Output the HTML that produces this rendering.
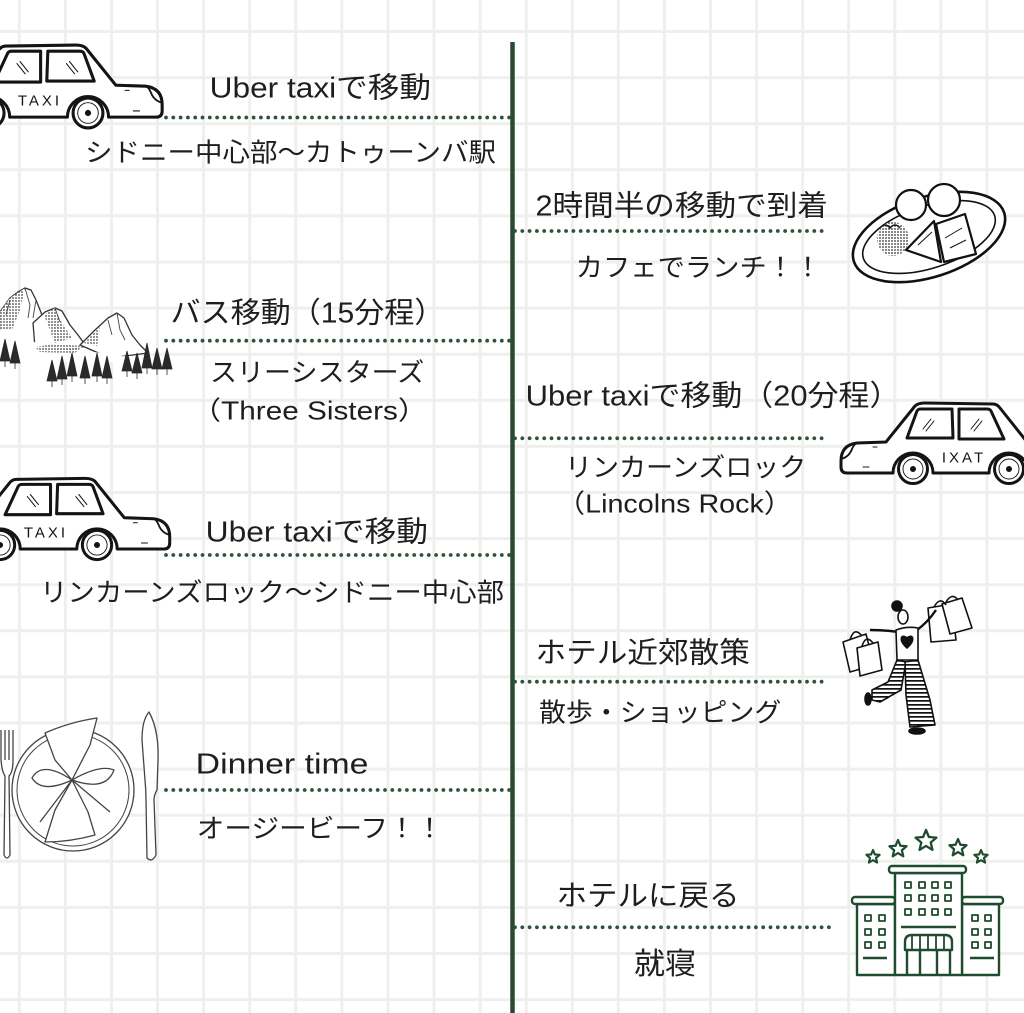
<!DOCTYPE html>
<html><head><meta charset="utf-8"><style>
html,body{margin:0;padding:0;background:#fff;}
svg{display:block;}
text{font-family:"Liberation Sans","Noto Sans CJK JP",sans-serif;fill:#1e1e1e;}
</style></head><body>
<svg width="1024" height="1013" viewBox="0 0 1024 1013" xmlns="http://www.w3.org/2000/svg">
<defs>
<pattern id="stripes" width="6" height="4" patternUnits="userSpaceOnUse"><rect width="6" height="4" fill="#fff"/><rect width="6" height="1.7" fill="#111"/></pattern>
<pattern id="stipple" width="3" height="3" patternUnits="userSpaceOnUse"><rect width="3" height="3" fill="#fff"/><circle cx="1" cy="1" r="0.9" fill="#333"/></pattern>
<g id="car" stroke="#141414" stroke-width="3" stroke-linejoin="round" stroke-linecap="round">
<path d="M-72,-8 Q-72,-24 -56,-26 L-27,-27 L2,-63 Q5,-66 12,-66 L80,-65 Q84,-65 87,-61 L118,-22 L118,4 L116,4 A20,20 0 0 0 76,4 L20,4 A20,20 0 0 0 -20,4 L-66,4 Q-72,4 -72,-2 Z" fill="#fff"/>
<path d="M-72,-10 Q-64,-12 -61,-20 Q-59,-25 -56,-26" fill="none" stroke-width="1.8"/>
<path d="M-6,-31 L4,-58 Q5,-60 8,-60 L39,-60 L40,-31 Z" fill="#fff"/>
<path d="M46,-60 L74,-60 Q77,-60 78,-58 L91,-30 L46,-30 Z" fill="#fff"/>
<path d="M10,-40 L18,-50 M13,-38 L21,-48 M58,-40 L66,-50 M61,-38 L69,-48" stroke-width="1" fill="none"/>
<path d="M-50,-2 L-44,-2 M-40,-22 L-36,-22" stroke-width="1" fill="none"/>
<circle cx="0" cy="0" r="14.5" fill="#fff"/>
<circle cx="0" cy="0" r="10" fill="none" stroke-width="0.9"/>
<circle cx="0" cy="0" r="3" fill="#141414" stroke="none"/>
<circle cx="96" cy="0" r="14.5" fill="#fff"/>
<circle cx="96" cy="0" r="10" fill="none" stroke-width="0.9"/>
<circle cx="96" cy="0" r="3" fill="#141414" stroke="none"/>
</g>
<path id="star" d="M0,-1 L.265,-.364 L.951,-.309 L.428,.139 L.588,.809 L0,.45 L-.588,.809 L-.428,.139 L-.951,-.309 L-.265,-.364 Z"/>
</defs>

<!-- grid -->
<path stroke="#edf0ee" stroke-width="3" fill="none" d="
M19.3,0V1013 M65.4,0V1013 M111.5,0V1013 M157.5,0V1013 M203.6,0V1013 M249.7,0V1013 M295.8,0V1013 M341.9,0V1013 M387.9,0V1013 M434,0V1013 M480.1,0V1013 M526.2,0V1013 M572.3,0V1013 M618.3,0V1013 M664.4,0V1013 M710.5,0V1013 M756.6,0V1013 M802.7,0V1013 M848.7,0V1013 M894.8,0V1013 M940.9,0V1013 M987,0V1013
M0,31.5H1024 M0,77.6H1024 M0,123.7H1024 M0,169.8H1024 M0,215.9H1024 M0,262H1024 M0,308.1H1024 M0,354.2H1024 M0,400.3H1024 M0,446.4H1024 M0,492.5H1024 M0,538.6H1024 M0,584.7H1024 M0,630.8H1024 M0,676.9H1024 M0,723H1024 M0,769.1H1024 M0,815.2H1024 M0,861.3H1024 M0,907.4H1024 M0,953.5H1024 M0,999.6H1024"/>

<!-- central line -->
<line x1="512.5" y1="42" x2="512.5" y2="1013" stroke="#2b4a32" stroke-width="4.5"/>

<!-- dotted connectors -->
<g stroke="#2e5438" stroke-width="3.8" stroke-linecap="round" stroke-dasharray="0 7.3" fill="none">
<line x1="166" y1="117.5" x2="510" y2="117.5"/>
<line x1="166" y1="340.7" x2="510" y2="340.7"/>
<line x1="166" y1="555" x2="510" y2="555"/>
<line x1="166" y1="790" x2="510" y2="790"/>
<line x1="515" y1="231" x2="826" y2="231"/>
<line x1="515" y1="438.3" x2="826" y2="438.3"/>
<line x1="515" y1="681.7" x2="826" y2="681.7"/>
<line x1="515" y1="927.3" x2="831" y2="927.3"/>
</g>

<!-- texts -->
<g>
<text x="209.7" y="97.7" font-size="29" textLength="221.3" lengthAdjust="spacingAndGlyphs">Uber taxiで移動</text>
<text x="85" y="161.6" font-size="26" textLength="411" lengthAdjust="spacingAndGlyphs">シドニー中心部〜カトゥーンバ駅</text>
<text x="170.5" y="322.7" font-size="29" textLength="273.9" lengthAdjust="spacingAndGlyphs">バス移動（15分程）</text>
<text x="210" y="381.6" font-size="26" textLength="214.3" lengthAdjust="spacingAndGlyphs">スリーシスターズ</text>
<text x="191.4" y="419.6" font-size="26" textLength="236.2" lengthAdjust="spacingAndGlyphs">（Three Sisters）</text>
<text x="205.7" y="541.7" font-size="29" textLength="222.3" lengthAdjust="spacingAndGlyphs">Uber taxiで移動</text>
<text x="40" y="601.6" font-size="26" textLength="464" lengthAdjust="spacingAndGlyphs">リンカーンズロック〜シドニー中心部</text>
<text x="195.7" y="773.7" font-size="29" textLength="172.7" lengthAdjust="spacingAndGlyphs">Dinner time</text>
<text x="196.7" y="837.6" font-size="26" textLength="246.7" lengthAdjust="spacingAndGlyphs">オージービーフ！！</text>

<text x="535.5" y="215.7" font-size="29" textLength="292.4" lengthAdjust="spacingAndGlyphs">2時間半の移動で到着</text>
<text x="575.7" y="276.6" font-size="26" textLength="245.7" lengthAdjust="spacingAndGlyphs">カフェでランチ！！</text>
<text x="525.7" y="405.7" font-size="29" textLength="374.7" lengthAdjust="spacingAndGlyphs">Uber taxiで移動（20分程）</text>
<text x="565" y="476.6" font-size="26" textLength="241.3" lengthAdjust="spacingAndGlyphs">リンカーンズロック</text>
<text x="556.4" y="512.6" font-size="26" textLength="236.2" lengthAdjust="spacingAndGlyphs">（Lincolns Rock）</text>
<text x="535.5" y="662.7" font-size="29" textLength="214.4" lengthAdjust="spacingAndGlyphs">ホテル近郊散策</text>
<text x="539" y="721.6" font-size="26" textLength="242.3" lengthAdjust="spacingAndGlyphs">散歩・ショッピング</text>
<text x="556.5" y="905.7" font-size="29" textLength="183" lengthAdjust="spacingAndGlyphs">ホテルに戻る</text>
<text x="634" y="974.1" font-size="30" textLength="62" lengthAdjust="spacingAndGlyphs">就寝</text>
</g>

<!-- cars -->
<use href="#car" transform="translate(88,113) scale(-1.03,1.03)"/>
<text x="40" y="105.4" font-size="15" text-anchor="middle" letter-spacing="3" style="fill:#141414">TAXI</text>
<use href="#car" transform="translate(97,545) scale(-1.01,1.01)"/>
<text x="46" y="537.4" font-size="15" text-anchor="middle" letter-spacing="3" style="fill:#141414">TAXI</text>
<use href="#car" transform="translate(913,469)"/>
<text x="964" y="462.4" font-size="15" text-anchor="middle" letter-spacing="3" style="fill:#141414">IXAT</text>

<!-- mountains -->
<g stroke="#333" stroke-width="1.3" stroke-linejoin="round">
<path d="M0,312 L10,298 L18,292 L25,288 L31,290 L36,300 L44,320 L52,335 L55,345 L0,345 Z" fill="#fff"/>
<path d="M33,323 L45,312 L55,308 L62,311 L70,325 L78,335 L86,346 L60,352 L35,348 Z" fill="#fff"/>
<path d="M80,345 L95,330 L108,318 L117,313 L124,318 L132,335 L140,345 L148,353 L110,358 Z" fill="#fff"/>
<path d="M0,330 Q30,340 55,350 Q90,350 120,356 L165,358 L165,362 L0,362 Z" fill="#fff" stroke="none"/>
</g>
<g fill="url(#stipple)" opacity="0.9">
<path d="M0,312 L10,298 L25,288 L20,310 L12,330 L0,330 Z"/>
<path d="M44,315 L55,308 L60,320 L72,338 L55,343 Z"/>
<path d="M84,343 L100,327 L97,346 Z"/>
<path d="M35,347 L55,344 L83,346 L75,353 L40,352 Z"/>
</g>
<g stroke="#444" stroke-width="0.9" fill="none">
<path d="M25,288 L30,305 L28,318 M55,308 L60,322 M117,313 L120,330 L125,340 M108,320 L112,335 M10,300 L6,315 M36,300 L33,318"/>
</g>
<g fill="#2a2a2a" stroke="#2a2a2a" stroke-width="0.8">
<path d="M5,339 L10,361 L0,361 Z M5,361 V367"/>
<path d="M15,341 L20,363 L10,363 Z M15,363 V369"/>
<path d="M52,360 L57,381 L47,381 Z M52,381 V387"/>
<path d="M62,356 L67,379 L57,379 Z M62,379 V385"/>
<path d="M72,353 L77,376 L67,376 Z M72,376 V382"/>
<path d="M85,356 L90,378 L80,378 Z M85,378 V384"/>
<path d="M97,353 L102,376 L92,376 Z M97,376 V382"/>
<path d="M107,356 L112,378 L102,378 Z M107,378 V384"/>
<path d="M127,351 L132,371 L122,371 Z M127,371 V377"/>
<path d="M137,353 L142,373 L132,373 Z M137,373 V379"/>
<path d="M147,343 L152,368 L142,368 Z M147,368 V374"/>
<path d="M157,348 L162,369 L152,369 Z M157,369 V375"/>
<path d="M167,348 L172,369 L162,369 Z M167,369 V375"/>
</g>

<!-- food plate -->
<g transform="rotate(-18 929 237)">
<ellipse cx="929" cy="237" rx="79" ry="40" fill="#fff" stroke="#111" stroke-width="2.6"/>
<ellipse cx="929" cy="237" rx="69" ry="31" fill="none" stroke="#111" stroke-width="1.6"/>
</g>
<ellipse cx="893" cy="239" rx="16" ry="17" fill="url(#stipple)"/>
<path d="M880,228 q5,-6 10,0 q5,-6 10,0" stroke="#111" stroke-width="1.5" fill="none"/>
<circle cx="911" cy="205" r="15" fill="#fff" stroke="#111" stroke-width="2.2"/>
<circle cx="944" cy="200" r="16" fill="#fff" stroke="#111" stroke-width="2.2"/>
<path d="M906,250 L934,221 L941,262 Z" fill="#fff" stroke="#111" stroke-width="2.2" stroke-linejoin="round"/>
<path d="M936,224 L965,214 L976,254 L944,262 Z" fill="#fff" stroke="#111" stroke-width="2.2" stroke-linejoin="round"/>
<path d="M918,245 L932,232 M945,238 L962,228 M950,248 L966,240" stroke="#111" stroke-width="1" fill="none"/>

<!-- cutlery -->
<g stroke="#444" stroke-width="1.3" fill="#fff" stroke-linejoin="round">
<path d="M1,730 L1,760 Q2,772 5,776 L4,855 Q7,861 10,855 L9,776 Q13,772 13,760 L13,730"/>
<path d="M5,730 L5,760 M9,730 L9,760" fill="none"/>
<circle cx="73" cy="790" r="61"/>
<circle cx="73" cy="790" r="56" fill="none" stroke-width="1"/>
<path d="M45,733 Q70,722 97,718 L90,745 L72,780 L55,760 Z"/>
<path d="M72,780 L88,812 L95,835 Q70,842 45,842 L55,810 Z"/>
<path d="M72,780 Q42,760 32,778 Q42,794 72,780 Q100,764 114,770 Q106,792 72,780 M72,780 L40,822 M72,780 L110,812" fill="none"/>
<path d="M149,712 Q159,730 158,760 L157,790 Q154,795 154,800 L156,855 Q152,863 147,858 L146,800 Q146,790 145,780 L142,740 Q142,720 149,712 Z"/>
</g>

<!-- shopping woman -->
<g stroke="#111" stroke-width="1.6" stroke-linejoin="round">
<path d="M843,642 L866,634 L874,665 L850,672 Z" fill="#fff"/>
<path d="M857,648 L878,642 L882,670 L860,676 Z" fill="#fff"/>
<path d="M850,640 Q854,626 862,636 M862,646 Q866,634 873,643" fill="none"/>
<path d="M928,608 L952,604 L956,640 L931,642 Z" fill="#fff"/>
<path d="M942,604 L962,598 L972,628 L950,634 Z" fill="#fff"/>
<path d="M934,607 Q940,596 946,605 M946,602 Q952,592 958,600" fill="none"/>
<path d="M898,632 Q885,630 870,630 M917,630 Q928,622 936,610" fill="none" stroke-width="2.4"/>
<path d="M896,630 Q907,626 918,628 L918,660 L897,660 Z" fill="#fff"/>
<path d="M907,648 C898,640 901,633 907,638 C913,633 916,640 907,648 Z" fill="#111"/>
<ellipse cx="903" cy="617" rx="5" ry="7" fill="#fff"/>
<circle cx="897" cy="606" r="5" fill="#111"/>
<path d="M897,660 L906,662 L901,690 L880,702 L872,700 L872,690 L888,682 Z" fill="url(#stripes)"/>
<path d="M905,662 L918,660 L930,700 L935,725 L910,727 L906,695 Z" fill="url(#stripes)"/>
<ellipse cx="868" cy="699" rx="3" ry="6" fill="#111"/>
<ellipse cx="917" cy="731" rx="8" ry="3" fill="#111"/>
</g>

<!-- hotel -->
<g stroke="#1f4b2f" stroke-width="2.4" fill="#fff" stroke-linejoin="round">
<use href="#star" transform="translate(873,857) scale(7)" style="stroke-width:0.3"/>
<use href="#star" transform="translate(898,849) scale(9)" style="stroke-width:0.25"/>
<use href="#star" transform="translate(926,841) scale(11)" style="stroke-width:0.21"/>
<use href="#star" transform="translate(958,848) scale(9)" style="stroke-width:0.25"/>
<use href="#star" transform="translate(981,857) scale(7)" style="stroke-width:0.3"/>
<rect x="857" y="904" width="38" height="71"/>
<rect x="962" y="904" width="37" height="71"/>
<rect x="852" y="897" width="43" height="7" rx="3"/>
<rect x="962" y="897" width="41" height="7" rx="3"/>
<rect x="895" y="873" width="67" height="102"/>
<rect x="889" y="866" width="77" height="7" rx="3"/>
<g stroke-width="1.8">
<rect x="905" y="882" width="6" height="6"/><rect x="919" y="882" width="6" height="6"/><rect x="932" y="882" width="6" height="6"/><rect x="945" y="882" width="6" height="6"/>
<rect x="905" y="895" width="6" height="6"/><rect x="919" y="895" width="6" height="6"/><rect x="932" y="895" width="6" height="6"/><rect x="945" y="895" width="6" height="6"/>
<rect x="905" y="909" width="6" height="6"/><rect x="919" y="909" width="6" height="6"/><rect x="932" y="909" width="6" height="6"/><rect x="945" y="909" width="6" height="6"/>
<rect x="865" y="915" width="6" height="6"/><rect x="879" y="915" width="6" height="6"/>
<rect x="865" y="929" width="6" height="6"/><rect x="879" y="929" width="6" height="6"/>
<rect x="865" y="942" width="6" height="6"/><rect x="879" y="942" width="6" height="6"/>
<rect x="972" y="915" width="6" height="6"/><rect x="985" y="915" width="6" height="6"/>
<rect x="972" y="929" width="6" height="6"/><rect x="985" y="929" width="6" height="6"/>
<rect x="972" y="942" width="6" height="6"/><rect x="985" y="942" width="6" height="6"/>
</g>
<path d="M901,927 H956 M863,958 H887 M970,958 H994" fill="none"/>
<path d="M905,950 L905,942 Q905,935 912,935 L945,935 Q952,935 952,942 L952,950 Z"/>
<path d="M912,936 V950 M920,936 V950 M928,936 V950 M936,936 V950 M944,936 V950" fill="none" stroke-width="1.8"/>
<path d="M907,950 V975 M920,950 V975 M937,950 V975 M950,950 V975" fill="none"/>
</g>
</svg>
</body></html>
